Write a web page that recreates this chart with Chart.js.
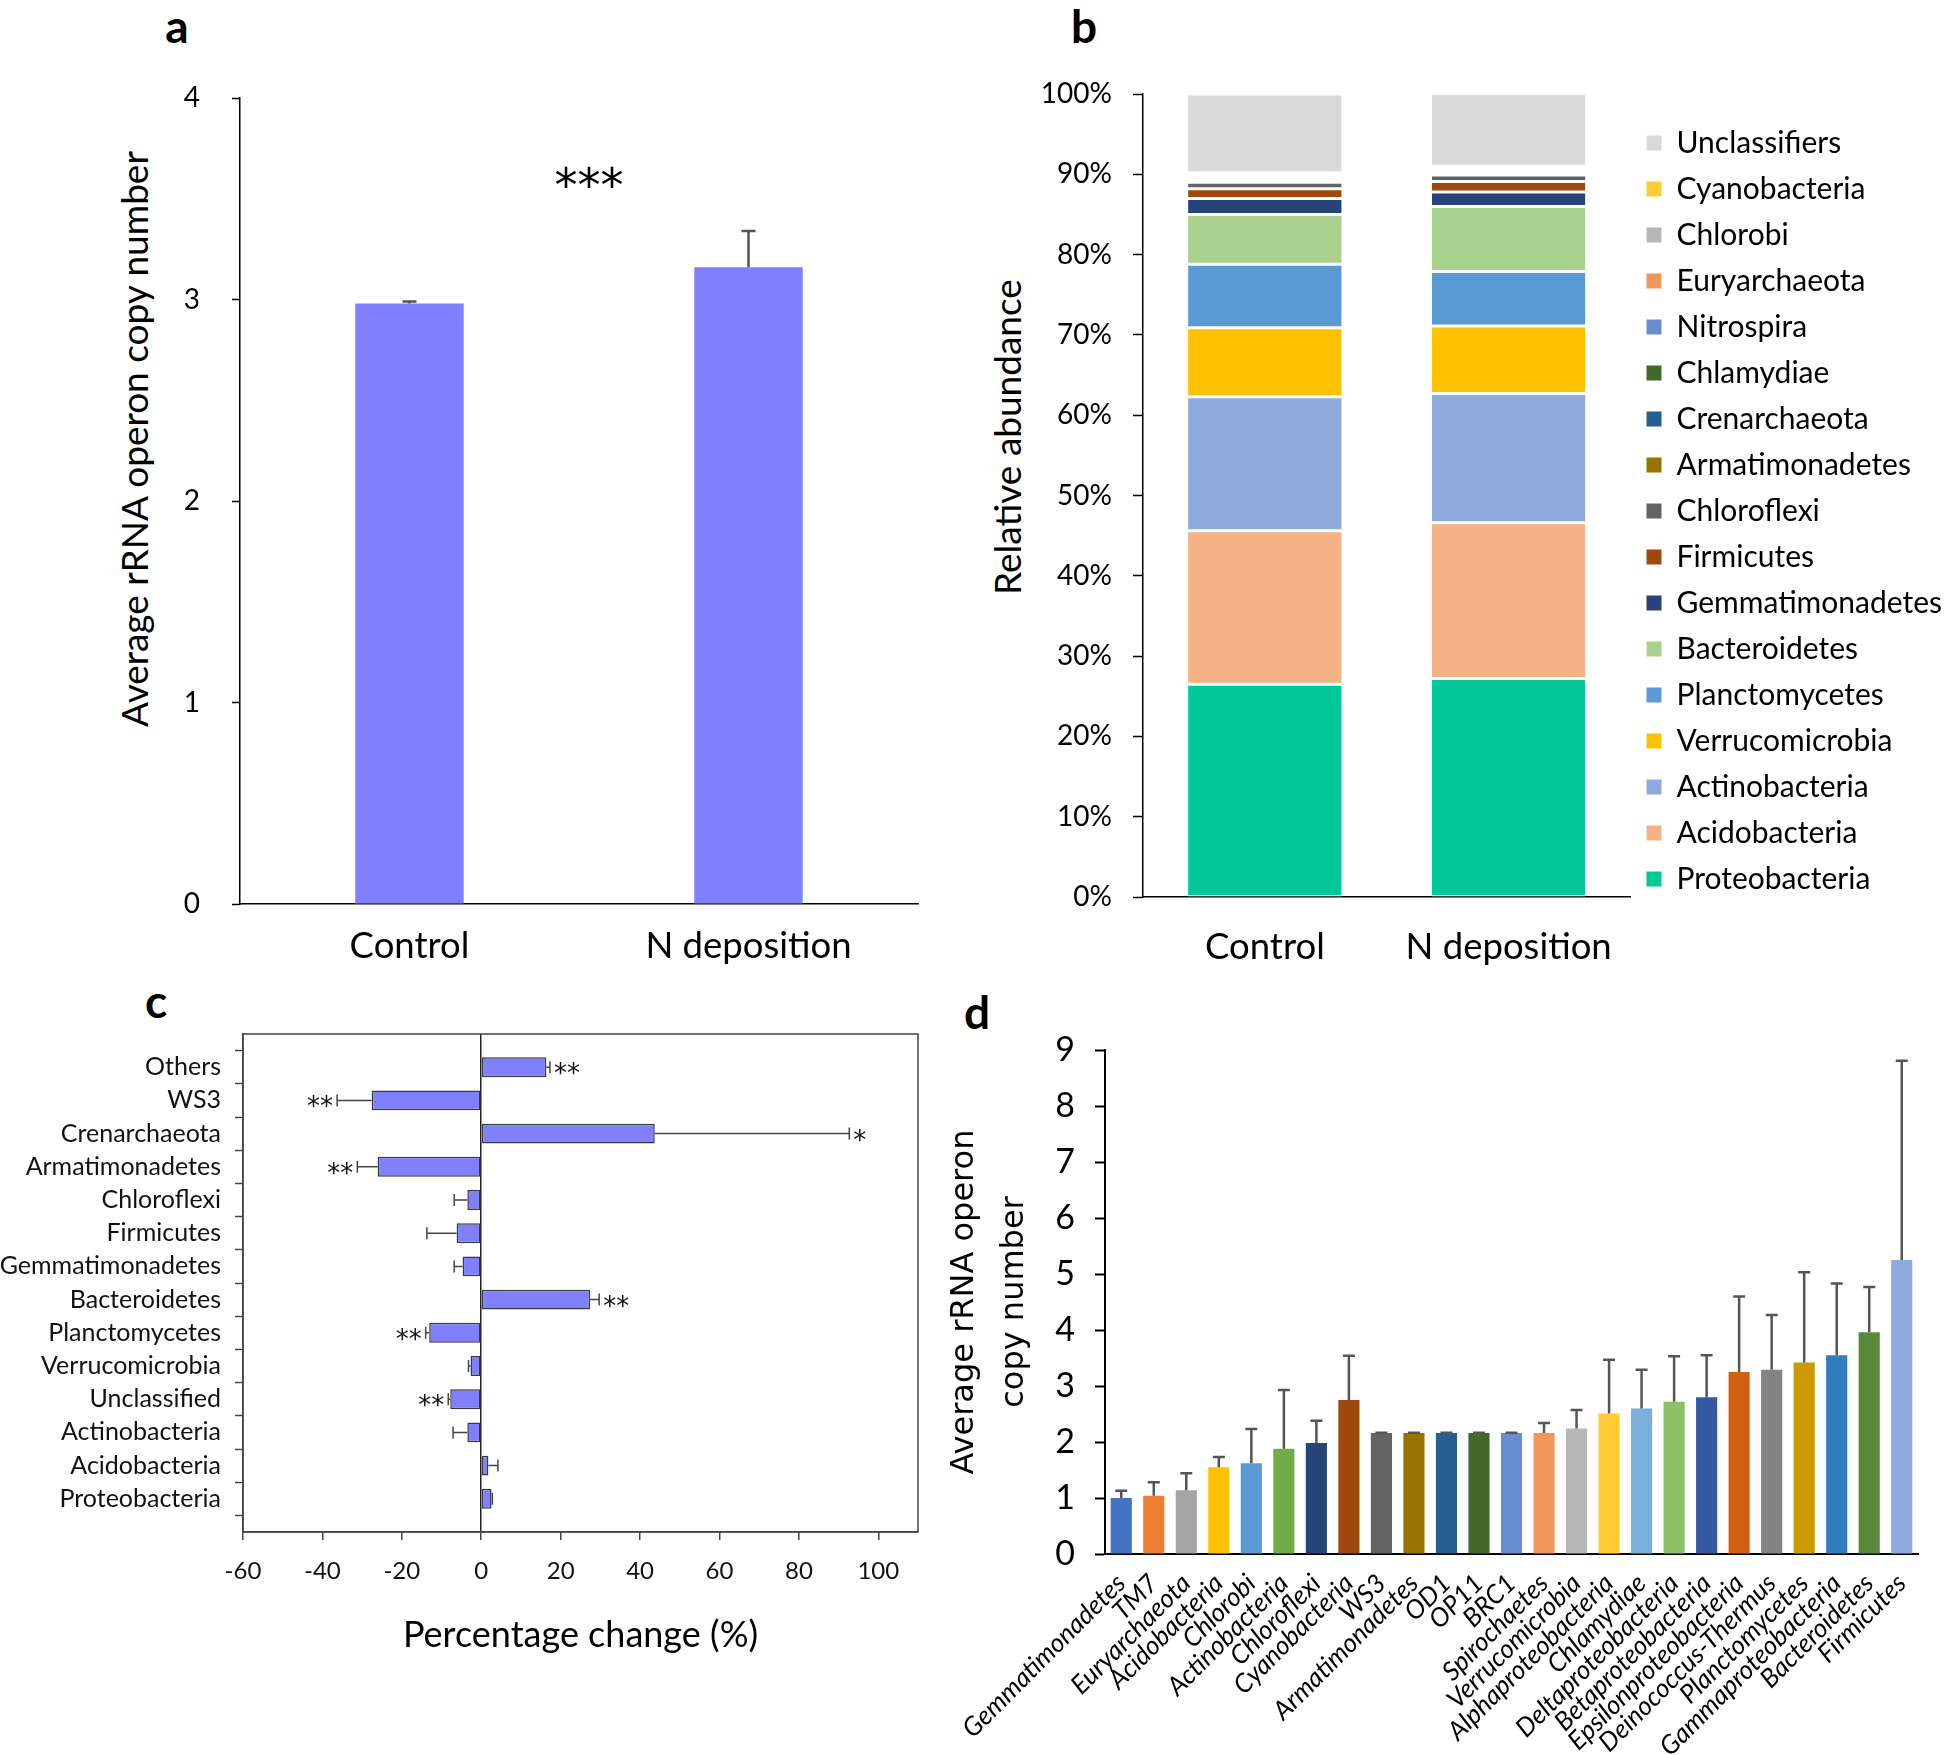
<!DOCTYPE html>
<html>
<head>
<meta charset="utf-8">
<script src="https://cdn.jsdelivr.net/npm/chart.js@4.4.1/dist/chart.umd.min.js"></script>
<style>
    body { margin: 0; background: #fff; width: 1952px; height: 1755px; position: relative; overflow: hidden; font-family: Lato, sans-serif; }
    .panel { position: absolute; }
    .tag { position: absolute; font: bold 46px Lato, sans-serif; transform: translate(-50%, -50%); }
    .ytitle { position: absolute; font-size: 37px; white-space: nowrap; transform: translate(-50%, -50%) rotate(-90deg); }
</style>
</head>
<body>
<div class="tag" style="left:177px;top:25px">a</div>
<div class="tag" style="left:1084px;top:25px">b</div>
<div class="tag" style="left:156px;top:1000px">c</div>
<div class="tag" style="left:977px;top:1011px">d</div>
<div class="ytitle" style="left:133px;top:439px">Average rRNA operon copy number</div>
<div class="ytitle" style="left:1006px;top:437px">Relative abundance</div>

<div class="panel" style="left:0;top:60px;width:930px;height:930px"><canvas id="chartA"></canvas></div>
<div class="panel" style="left:640px;top:50px;width:1312px;height:920px"><canvas id="chartB"></canvas></div>
<div class="panel" style="left:0;top:990px;width:940px;height:700px"><canvas id="chartC"></canvas></div>
<div class="panel" style="left:930px;top:1000px;width:1022px;height:755px"><canvas id="chartD"></canvas></div>

<script>
// ---- panel a ----
const groupLabels = ['Control', 'N deposition'];
const copyMean = [2.98, 3.16];
const copyErr = [0.01, 0.18];

// ---- panel b (bottom of stack first) ----
const phyla = ['Proteobacteria', 'Acidobacteria', 'Actinobacteria', 'Verrucomicrobia', 'Planctomycetes',
    'Bacteroidetes', 'Gemmatimonadetes', 'Firmicutes', 'Chloroflexi', 'Armatimonadetes', 'Crenarchaeota',
    'Chlamydiae', 'Nitrospira', 'Euryarchaeota', 'Chlorobi', 'Cyanobacteria', 'Unclassifiers'];
const phylaColors = ['#02c898', '#f4b183', '#8faadc', '#ffc000', '#5b9bd5', '#a9d18e', '#264478', '#9e480e',
    '#636363', '#997300', '#255e91', '#43682b', '#698ed0', '#f1975a', '#b7b7b7', '#ffcd33', '#d9d9d9'];
const abundControl = [26.5, 19.1, 16.7, 8.6, 7.9, 6.2, 2.0, 1.2, 0.8, 0.2, 0.2, 0.1, 0.3, 0.1, 0.2, 0.1, 9.8];
const abundNdep = [27.2, 19.4, 16.1, 8.4, 6.8, 8.1, 1.8, 1.3, 0.8, 0.1, 0.3, 0.1, 0.2, 0.1, 0.1, 0.2, 9.1];
const pctTicks = [0, 10, 20, 30, 40, 50, 60, 70, 80, 90, 100];

// ---- panel c ----
const changeLabels = ['Others', 'WS3', 'Crenarchaeota', 'Armatimonadetes', 'Chloroflexi', 'Firmicutes',
    'Gemmatimonadetes', 'Bacteroidetes', 'Planctomycetes', 'Verrucomicrobia', 'Unclassified',
    'Actinobacteria', 'Acidobacteria', 'Proteobacteria'];
const changeValues = [16.4, -27.6, 43.7, -26.1, -3.5, -6.2, -4.7, 27.4, -13.1, -2.7, -7.8, -3.5, 1.8, 2.6];
const changeErr = [0.9, 8.7, 49.0, 5.1, 3.3, 7.5, 2.1, 2.3, 0.9, 0.5, 0.5, 3.6, 2.4, 0.2];
const changeSig = ['**', '**', '*', '**', '', '', '', '**', '**', '', '**', '', '', ''];
const changeTicks = [-60, -40, -20, 0, 20, 40, 60, 80, 100];

// ---- panel d ----
const taxa = ['Gemmatimonadetes', 'TM7', 'Euryarchaeota', 'Acidobacteria', 'Chlorobi', 'Actinobacteria',
    'Chloroflexi', 'Cyanobacteria', 'WS3', 'Armatimonadetes', 'OD1', 'OP11', 'BRC1', 'Spirochaetes',
    'Verrucomicrobia', 'Alphaproteobacteria', 'Chlamydiae', 'Deltaproteobacteria', 'Betaproteobacteria',
    'Epsilonproteobacteria', 'Deinococcus-Thermus', 'Planctomycetes', 'Gammaproteobacteria',
    'Bacteroidetes', 'Firmicutes'];
const taxaCopy = [1.00, 1.04, 1.14, 1.55, 1.62, 1.88, 1.98, 2.75, 2.16, 2.16, 2.16, 2.16, 2.16, 2.16,
    2.24, 2.51, 2.60, 2.72, 2.80, 3.25, 3.29, 3.42, 3.55, 3.96, 5.25];
const taxaErr = [0.13, 0.24, 0.30, 0.18, 0.61, 1.05, 0.40, 0.79, 0.005, 0.005, 0.005, 0.005, 0.005, 0.18,
    0.33, 0.96, 0.69, 0.81, 0.75, 1.35, 0.98, 1.61, 1.28, 0.81, 3.56];
const taxaColors = ['#4472c4', '#ed7d31', '#a5a5a5', '#ffc000', '#5b9bd5', '#70ad47', '#264478', '#9e480e',
    '#636363', '#997300', '#255e91', '#43682b', '#698ed0', '#f1975a', '#b7b7b7', '#ffcd33', '#7cafdd',
    '#8cc168', '#335aa1', '#d26012', '#848484', '#cc9a00', '#327dc2', '#5a8a39', '#8faadc'];

Chart.defaults.font.family = "Lato, 'Liberation Sans', sans-serif";
Chart.defaults.color = '#000';
Chart.defaults.animation = false;
Chart.defaults.plugins.legend.display = false;
Chart.defaults.plugins.tooltip.enabled = false;

// 误差线 + 显著性星号
const errorBars = {
    id: 'errorBars',
    afterDatasetsDraw(chart, args, opts) {
        if (!opts.errors) return;
        const { ctx } = chart;
        const horizontal = chart.options.indexAxis === 'y';
        const vScale = horizontal ? chart.scales.x : chart.scales.y;
        const values = chart.data.datasets[0].data;
        const bars = chart.getDatasetMeta(0).data;
        ctx.save();
        ctx.strokeStyle = opts.color;
        ctx.lineWidth = opts.width;
        bars.forEach((bar, i) => {
            const v = values[i];
            const e = opts.errors[i];
            if (v == null || e == null) return;
            const end = v < 0 ? v - e : v + e;
            const p0 = vScale.getPixelForValue(v);
            const p1 = vScale.getPixelForValue(end);
            const c = horizontal ? bar.y : bar.x;
            const h = opts.cap / 2;
            ctx.beginPath();
            if (horizontal) {
                ctx.moveTo(p0, c); ctx.lineTo(p1, c);
                ctx.moveTo(p1, c - h); ctx.lineTo(p1, c + h);
            } else {
                ctx.moveTo(c, p0); ctx.lineTo(c, p1);
                ctx.moveTo(c - h, p1); ctx.lineTo(c + h, p1);
            }
            ctx.stroke();
            const mark = opts.marks ? opts.marks[i] : '';
            if (mark) {
                ctx.fillStyle = '#111';
                ctx.font = opts.markFont;
                ctx.textBaseline = 'alphabetic';
                ctx.textAlign = v < 0 ? 'right' : 'left';
                ctx.fillText(mark, p1 + (v < 0 ? -4 : 4), c + 15);
            }
        });
        if (opts.sigText) {
            ctx.fillStyle = '#000';
            ctx.font = opts.sigFont;
            ctx.textAlign = 'center';
            ctx.textBaseline = 'alphabetic';
            ctx.fillText(opts.sigText, (bars[0].x + bars[1].x) / 2 + 10, vScale.getPixelForValue(opts.sigValue));
        }
        ctx.restore();
    }
};

const frameBox = {
    id: 'frameBox',
    afterDraw(chart, args, opts) {
        if (!opts.color) return;
        const { ctx, chartArea: a } = chart;
        ctx.save();
        ctx.strokeStyle = opts.color;
        ctx.lineWidth = opts.width;
        ctx.strokeRect(a.left, a.top, a.right - a.left, a.bottom - a.top);
        ctx.restore();
    }
};

Chart.register(errorBars, frameBox);

// 固定坐标轴占位，不让标签撑开绘图区
function fixWidth(w) {
    return s => { s.width = w; s.paddingTop = 0; s.paddingBottom = 0; };
}
function fixHeight(h) {
    return s => { s.height = h; s.paddingLeft = 0; s.paddingRight = 0; };
}

// ---- a ----
new Chart(document.getElementById('chartA'), {
    type: 'bar',
    data: {
        labels: groupLabels,
        datasets: [{ data: copyMean, backgroundColor: '#8080ff', barPercentage: 0.32, categoryPercentage: 1 }]
    },
    options: {
        responsive: true,
        maintainAspectRatio: false,
        layout: { padding: { top: 38, right: 12, left: 0, bottom: 0 } },
        scales: {
            x: {
                grid: { display: false },
                border: { color: '#000', width: 1.5 },
                ticks: { font: { size: 36.5 }, padding: 12 },
                afterFit: fixHeight(86)
            },
            y: {
                min: 0, max: 4,
                ticks: { stepSize: 1, font: { size: 28 }, padding: 32 },
                grid: { drawOnChartArea: false, tickLength: 8, tickColor: '#000', tickWidth: 1.5 },
                border: { color: '#000', width: 1.5 },
                afterFit: fixWidth(240)
            }
        },
        plugins: {
            errorBars: { errors: copyErr, color: '#555', width: 2.5, cap: 14,
                sigText: '***', sigFont: "46px 'DejaVu Sans'", sigValue: 3.49 }
        }
    }
});

// ---- b ----
new Chart(document.getElementById('chartB'), {
    type: 'bar',
    data: {
        labels: groupLabels,
        datasets: phyla.map((name, i) => ({
            label: name,
            data: [abundControl[i], abundNdep[i]],
            backgroundColor: phylaColors[i],
            borderColor: '#fff',
            borderWidth: { top: 1.5, bottom: 1.5, left: 0, right: 0 },
            borderSkipped: false,
            barPercentage: 0.63,
            categoryPercentage: 1
        }))
    },
    options: {
        responsive: true,
        maintainAspectRatio: false,
        layout: { padding: { top: 44, right: 0, left: 0, bottom: 0 } },
        scales: {
            x: {
                stacked: true,
                grid: { display: false },
                border: { color: '#000', width: 1.5 },
                ticks: { font: { size: 36.5 }, padding: 20 },
                afterFit: fixHeight(73)
            },
            y: {
                stacked: true,
                min: 0, max: 100,
                afterBuildTicks: s => { s.ticks = pctTicks.map(v => ({ value: v })); },
                ticks: { font: { size: 28 }, padding: 21, callback: v => v + '%' },
                grid: { drawOnChartArea: false, tickLength: 10, tickColor: '#000', tickWidth: 1.5 },
                border: { color: '#000', width: 1.5 },
                afterFit: fixWidth(503)
            }
        },
        plugins: {
            legend: {
                display: true,
                position: 'right',
                align: 'start',
                reverse: true,
                title: { display: true, text: ' ', font: { size: 10 }, padding: { top: 6, bottom: 0 } },
                labels: {
                    boxWidth: 15, boxHeight: 15, padding: 16, color: '#000',
                    font: { size: 30 },
                    generateLabels(chart) {
                        const items = Chart.defaults.plugins.legend.labels.generateLabels(chart);
                        items.forEach(it => { it.strokeStyle = it.fillStyle; it.lineWidth = 0; });
                        return items;
                    }
                }
            }
        }
    }
});

// ---- c ----
new Chart(document.getElementById('chartC'), {
    type: 'bar',
    data: {
        labels: [''].concat(changeLabels, ['']),
        datasets: [{
            data: [null].concat(changeValues, [null]),
            backgroundColor: '#7f7fff',
            borderColor: '#3a3a3a',
            borderWidth: 1.5,
            borderSkipped: false,
            barPercentage: 0.6,
            categoryPercentage: 1
        }]
    },
    options: {
        indexAxis: 'y',
        responsive: true,
        maintainAspectRatio: false,
        layout: { padding: { top: 44, right: 22, left: 0, bottom: 0 } },
        scales: {
            x: {
                min: -60, max: 110,
                afterBuildTicks: s => { s.ticks = changeTicks.map(v => ({ value: v })); },
                ticks: { font: { size: 24 }, padding: 17, color: '#111' },
                grid: {
                    color: c => (c.tick && c.tick.value === 0 ? '#222' : 'rgba(0,0,0,0)'),
                    lineWidth: 1.5, tickLength: 8, tickColor: '#444', tickWidth: 1.5
                },
                border: { color: '#444', width: 1.5 },
                title: { display: true, text: 'Percentage change (%)', font: { size: 36 },
                    padding: { top: 0, bottom: 33 } },
                afterFit: fixHeight(158)
            },
            y: {
                offset: false,
                ticks: { autoSkip: false, font: { size: 25 }, padding: 14, color: '#111' },
                grid: { drawOnChartArea: false, tickLength: 8, tickColor: '#444', tickWidth: 1.5 },
                border: { color: '#444', width: 1.5 },
                afterFit: fixWidth(243)
            }
        },
        plugins: {
            errorBars: { errors: [null].concat(changeErr, [null]), marks: [''].concat(changeSig, ['']),
                color: '#444', width: 1.5, cap: 12, markFont: "26px 'DejaVu Sans'" },
            frameBox: { color: '#444', width: 1.5 }
        }
    }
});

// ---- d ----
new Chart(document.getElementById('chartD'), {
    type: 'bar',
    data: {
        labels: taxa,
        datasets: [{ data: taxaCopy, backgroundColor: taxaColors, barPercentage: 0.65, categoryPercentage: 1 }]
    },
    options: {
        responsive: true,
        maintainAspectRatio: false,
        layout: { padding: { top: 50, right: 34, left: 0, bottom: 0 } },
        scales: {
            x: {
                grid: { display: false },
                border: { color: '#000', width: 2 },
                ticks: { autoSkip: false, minRotation: 45, maxRotation: 45, padding: 6,
                    font: { size: 26, style: 'italic' } },
                afterFit: fixHeight(201)
            },
            y: {
                min: 0, max: 9,
                ticks: { stepSize: 1, font: { size: 34 }, padding: 20 },
                grid: { drawOnChartArea: false, tickLength: 10, tickColor: '#000', tickWidth: 2 },
                border: { color: '#000', width: 2 },
                title: {
                    display: true,
                    text: ['Average rRNA operon', 'copy number'],
                    font: { size: 32, family: "'DejaVu Sans'", lineHeight: 1.55 },
                    padding: { top: 10, bottom: 0 }
                },
                afterFit: fixWidth(175)
            }
        },
        plugins: {
            errorBars: { errors: taxaErr, color: '#555', width: 2.5, cap: 12 }
        }
    }
});
</script>
</body>
</html>
